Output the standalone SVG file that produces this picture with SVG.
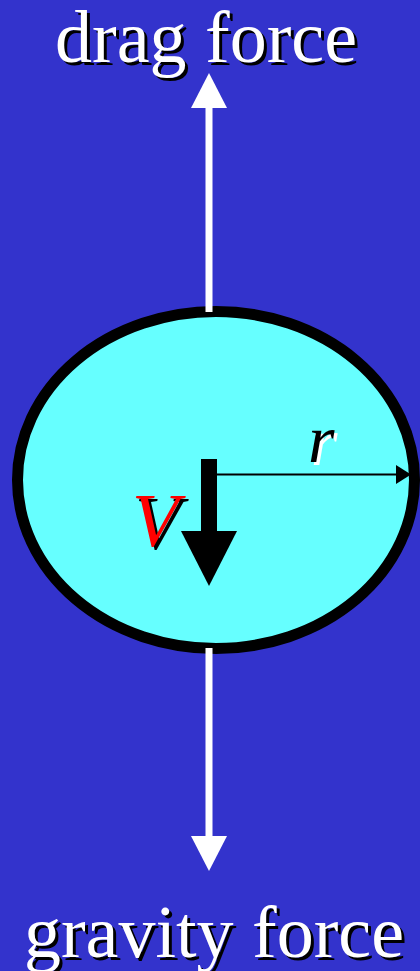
<svg xmlns="http://www.w3.org/2000/svg" width="420" height="971" viewBox="0 0 420 971">
<style>
.lbl{font-family:"Liberation Serif","Times New Roman",serif;font-size:74px;text-anchor:middle}
.it{font-family:"Liberation Serif","Times New Roman",serif;font-style:italic}
</style>
<rect width="420" height="971" fill="#3333CC"/>
<g id="drop">
<ellipse cx="216" cy="480" rx="198.5" ry="168.5" fill="#66FFFF" stroke="#000" stroke-width="11"/>
</g>
<g id="connectors">
<rect x="205.5" y="106" width="7" height="206" fill="#fff"/>
<polygon points="209,73 227,108 191,108" fill="#fff"/>
<rect x="205.5" y="648" width="7" height="189" fill="#fff"/>
<polygon points="209,871 227,836 191,836" fill="#fff"/>
<rect x="201" y="459" width="16" height="73" fill="#000"/>
<polygon points="181,531 237,531 209,586" fill="#000"/>
<line x1="217" y1="474.5" x2="398" y2="474.5" stroke="#000" stroke-width="2"/>
<polygon points="411,474.5 396,465 396,484" fill="#000"/>
</g>
<g id="drag-label">
<text class="lbl" x="209" y="65" fill="#000">drag force</text>
<text class="lbl" x="206" y="62" fill="#fff">drag force</text>
</g>
<g id="gravity-label">
<text class="lbl" x="217" y="960" fill="#000">gravity force</text>
<text class="lbl" x="214" y="957" fill="#fff">gravity force</text>
</g>
<g id="v-label">
<text class="it" x="135" y="549" font-size="76" fill="#000">V</text>
<text class="it" x="132" y="546" font-size="76" fill="#FF0000">V</text>
</g>
<g id="r-label">
<text class="it" x="311" y="465" font-size="68" fill="#fff">r</text>
<text class="it" x="308" y="462" font-size="68" fill="#000">r</text>
</g>
</svg>
